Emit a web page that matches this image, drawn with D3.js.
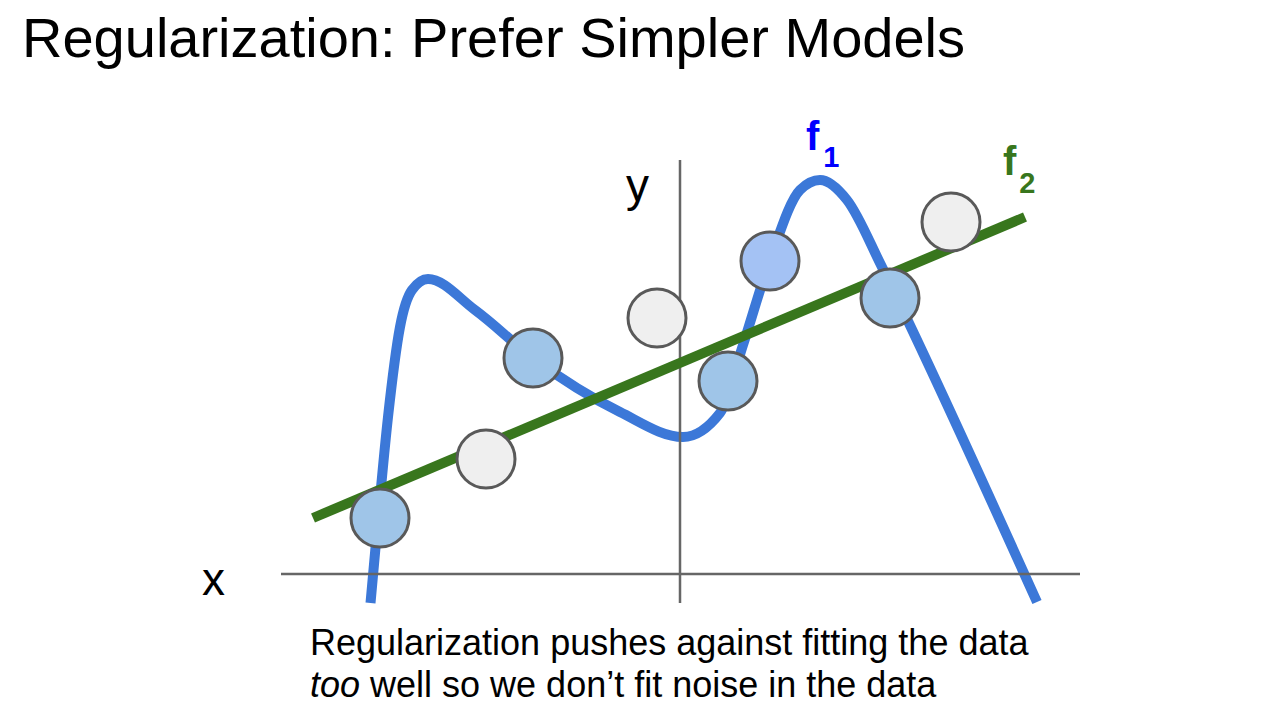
<!DOCTYPE html>
<html><head><meta charset="utf-8">
<script src="https://cdn.jsdelivr.net/npm/d3@7"></script>
<style>html,body{margin:0;padding:0;background:#fff;}svg{display:block;font-family:"Liberation Sans",Arial,sans-serif;}</style>
</head><body>
<script>
// Data (in chart units; origin at the axes' crossing)
const f1Curve = [[-3.095,-0.29],[-3.02,0.54],[-2.92,1.57],[-2.80,2.47],[-2.68,2.84],[-2.52,2.95],[-2.05,2.64],[-1.47,2.16],[-0.60,1.62],[0.03,1.37],[0.40,1.61],[0.63,2.29],[0.90,3.14],[1.20,3.84],[1.40,3.94],[1.67,3.74],[2.00,3.11],[2.16,2.78],[3.57,-0.28]];
const f2Line = [[-3.67,0.56],[3.45,3.57]];
const trainPoints = [[-3.00,0.56],[-1.47,2.16],[0.48,1.93],[2.10,2.76]];
const highlightPoints = [[0.90,3.13]];
const noisePoints = [[-1.94,1.15],[-0.23,2.56],[2.71,3.52]];
const xAxisExtent = [-3.99,4.0];
const yAxisExtent = [-0.29,4.14];
const title = "Regularization: Prefer Simpler Models";
const captionLine1 = "Regularization pushes against fitting the data";
const captionLine2Italic = "too";
const captionLine2Rest = " well so we don\u2019t fit noise in the data";

const W = 1263, H = 714;
const svg = d3.select("body").append("svg").attr("width", W).attr("height", H);
const x = d3.scaleLinear().domain([-4,4]).range([280,1080]);
const y = d3.scaleLinear().domain([0,4]).range([574,174]);

svg.append("text").attr("x",22).attr("y",57).attr("font-size",56).attr("fill","#000").text(title);

const line = d3.line().x(d=>x(d[0])).y(d=>y(d[1]));

// f1 curve
svg.append("path").datum(f1Curve)
  .attr("d", d3.line().x(d=>x(d[0])).y(d=>y(d[1])).curve(d3.curveMonotoneX))
  .attr("fill","none").attr("stroke","#3c78d8").attr("stroke-width",10).attr("stroke-linecap","butt").attr("stroke-linejoin","round");

// axes
svg.append("line").attr("x1",x(xAxisExtent[0])).attr("x2",x(xAxisExtent[1])).attr("y1",y(0)).attr("y2",y(0))
  .attr("stroke","#666").attr("stroke-width",2.5);
svg.append("line").attr("x1",x(0)).attr("x2",x(0)).attr("y1",y(yAxisExtent[0])).attr("y2",y(yAxisExtent[1]))
  .attr("stroke","#666").attr("stroke-width",2.5);

// f2 line
svg.append("path").datum(f2Line).attr("d",line).attr("fill","none").attr("stroke","#38761d").attr("stroke-width",10);

function dots(data, fill){
  svg.append("g").selectAll("circle").data(data).join("circle")
    .attr("cx",d=>x(d[0])).attr("cy",d=>y(d[1])).attr("r",29)
    .attr("fill",fill).attr("stroke","#595959").attr("stroke-width",3);
}
dots(trainPoints,"#9fc5e8");
dots(highlightPoints,"#a4c2f4");
dots(noisePoints,"#efefef");

// axis labels
svg.append("text").attr("x",202).attr("y",595).attr("font-size",46).text("x");
svg.append("text").attr("x",626).attr("y",201).attr("font-size",46).text("y");

// series labels
const l1 = svg.append("text").attr("x",806).attr("y",150).attr("fill","#0000ff").attr("font-weight","bold");
l1.append("tspan").attr("font-size",40).text("f");
l1.append("tspan").attr("font-size",29).attr("dx",4).attr("dy",17).text("1");
const l2 = svg.append("text").attr("x",1003).attr("y",175).attr("fill","#38761d").attr("font-weight","bold");
l2.append("tspan").attr("font-size",40).text("f");
l2.append("tspan").attr("font-size",29).attr("dx",3).attr("dy",18).text("2");

// caption
svg.append("text").attr("x",310).attr("y",655).attr("font-size",36).text(captionLine1);
const c2 = svg.append("text").attr("x",310).attr("y",697).attr("font-size",36);
c2.append("tspan").attr("font-style","italic").text(captionLine2Italic);
c2.append("tspan").text(captionLine2Rest);
</script>
</body></html>
